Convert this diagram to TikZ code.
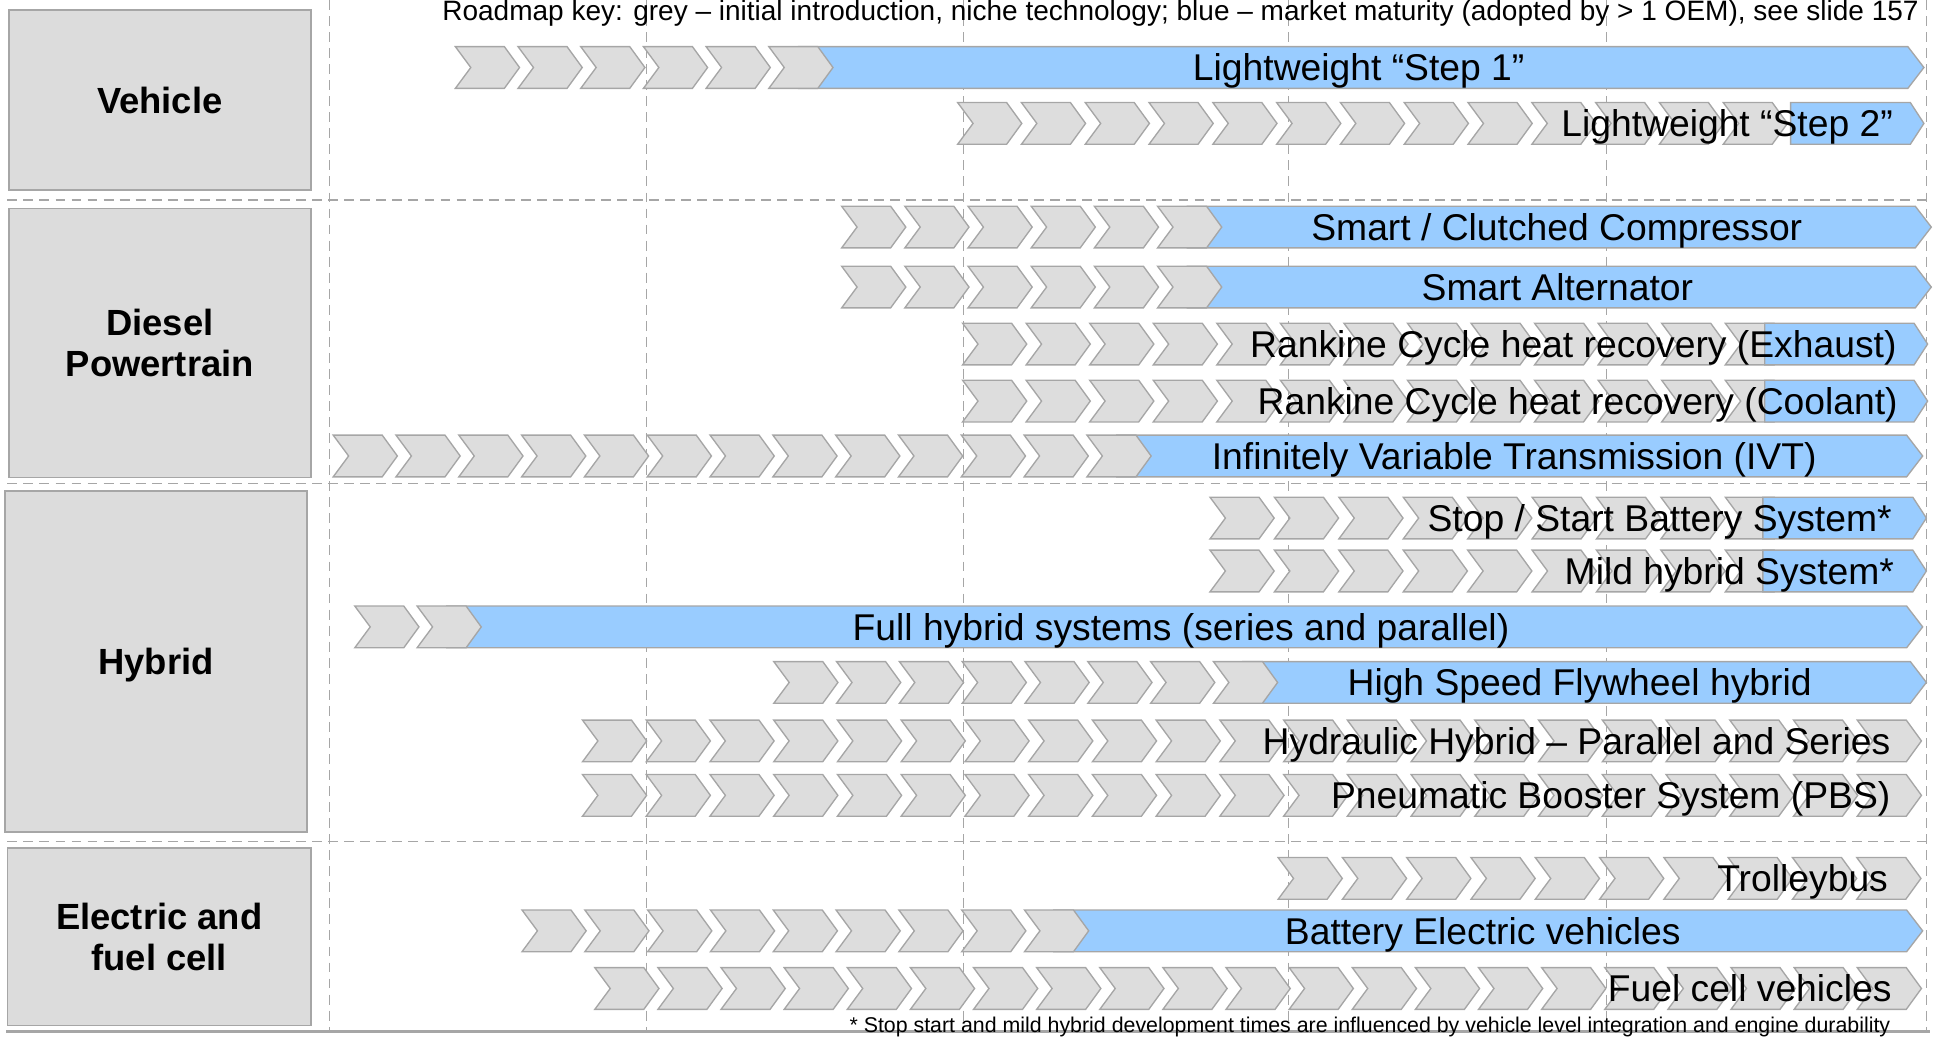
\documentclass[tikz,border=0pt]{standalone}
\usepackage{fontspec}
\setmainfont{Liberation Sans}
\usetikzlibrary{backgrounds}

\definecolor{edgegrey}{HTML}{A6A6A6}
\definecolor{chevfill}{HTML}{DDDDDD}
\definecolor{catfill}{HTML}{DCDCDC}
\definecolor{matureblue}{HTML}{99CCFF}

% rows of grey chevrons: y / first x / pitch / count
\def\chevronrows{54.7/369/50.8/6, 100/776/51.7/13,%
  184/682/51.2/6, 232.6/682/51.2/6, 278.8/780/51.5/13, 325/780/51.5/13,%
  369.5/270/50.9/13,%
  419.8/980.5/52.2/9, 462.7/980.5/52.2/9, 508/287.5/50.5/2, 553/627/50.9/8,%
  600.4/472/51.65/21, 644.5/472/51.65/21,%
  711.8/1035.7/52.1/10, 754.3/423/50.9/9, 801/482/51.15/21}
% blue bars lying under the chevrons: y / left / tip
\def\maturebars{54.7/647/1559, 184/962/1565, 232.6/962/1565,%
  369.5/905/1558, 508/362/1558, 553/1007/1561, 754.3/854/1558}
% blue ends lying over the chevrons: y / left / tip
\def\maturetips{100/1451/1559, 278.8/1430/1562, 325/1430/1562,%
  419.8/1428.5/1561, 462.7/1428.5/1561}
% texts: y / x / anchor / text
\def\techlabels{%
  54.7/1101/base/{Lightweight “Step 1”},%
  100/1534/base east/{Lightweight “Step 2”},%
  184/1261.5/base/{Smart / Clutched Compressor},%
  232.6/1262/base/{Smart Alternator},%
  278.8/1537/base east/{Rankine Cycle heat recovery (Exhaust)},%
  325/1538/base east/{Rankine Cycle heat recovery (Coolant)},%
  369.5/1227/base/{Infinitely Variable Transmission (IVT)},%
  419.8/1533/base east/{Stop / Start Battery System*},%
  462.7/1535/base east/{Mild hybrid System*},%
  508/957/base/{Full hybrid systems (series and parallel)},%
  553/1280/base/{High Speed Flywheel hybrid},%
  600.4/1532/base east/{Hydraulic Hybrid – Parallel and Series},%
  644.5/1532/base east/{Pneumatic Booster System (PBS)},%
  711.8/1530/base east/{Trolleybus},%
  754.3/1201.5/base/{Battery Electric vehicles},%
  801/1533/base east/{Fuel cell vehicles}%
}

\begin{document}
\begin{tikzpicture}[x=1pt,y=-1pt,
    chev/.style={draw=edgegrey, fill=chevfill, line width=1.1pt},
    bar/.style={draw=edgegrey, fill=matureblue, line width=1.1pt},
    catbox/.style={draw=edgegrey, fill=catfill, line width=1.4pt,
      inner sep=0pt, align=center, text depth=0pt,
      font=\bfseries\fontsize{29.5}{33}\selectfont},
    techlabel/.style={inner sep=0pt, font=\fontsize{30.2}{36}\selectfont},
    gridline/.style={draw=edgegrey, line width=1.1pt,
      dash pattern=on 8pt off 5pt}]

  \useasboundingbox (0,0) rectangle (1568,841);

  \begin{pgfonlayer}{background}
    \foreach \gx in {267,524,781,1044,1302,1561} {%
      \draw[gridline] (\gx,0) -- (\gx,836);
    }
    \foreach \gy in {162,392,682} {%
      \draw[gridline] (6,\gy) -- (1561,\gy);
    }
    \draw[edgegrey, line width=2pt] (5,836) -- (1564,836);
  \end{pgfonlayer}

  % categories
  \node[catbox, minimum width=245pt, minimum height=146pt] (vehicle)
    at (129.5,81) {Vehicle};
  \node[catbox, minimum width=245pt, minimum height=218pt] (diesel)
    at (129.5,278) {Diesel\\Powertrain};
  \node[catbox, minimum width=245pt, minimum height=276pt] (hybrid)
    at (126.5,536) {Hybrid};
  \node[catbox, minimum width=246pt, minimum height=144pt] (electric)
    at (129,759) {Electric and\\fuel cell};

  \foreach \by/\bl/\bt in \maturebars {%
    \draw[bar] (\bl,\by-16.9) -- (\bt-13,\by-16.9) -- (\bt,\by)
      -- (\bt-13,\by+16.9) -- (\bl,\by+16.9) -- cycle;
  }

  \foreach \cy/\cx/\cstep/\cn in \chevronrows {%
    \foreach \i in {1,...,\cn} {%
      \pgfmathsetmacro{\xx}{\cx+(\i-1)*\cstep}
      \draw[chev] (\xx,\cy-16.9) -- ++(39.7,0) -- ++(12.3,16.9)
        -- ++(-12.3,16.9) -- ++(-39.7,0) -- ++(12.5,-16.9) -- cycle;
    }
  }

  \foreach \by/\bl/\bt in \maturetips {%
    \draw[bar] (\bl,\by-16.9) -- (\bt-11,\by-16.9) -- (\bt,\by)
      -- (\bt-11,\by+16.9) -- (\bl,\by+16.9) -- cycle;
  }

  \foreach \ly/\lx/\lanc/\ltext [count=\k] in \techlabels {%
    \node[techlabel, anchor=\lanc] (tech\k) at (\lx,\ly+10.8) {\ltext};
  }

  \node[inner sep=0pt, anchor=base east, font=\fontsize{22.7}{26}\selectfont]
    (key) at (1555,17) {Roadmap key: grey – initial introduction, niche
    technology; blue – market maturity (adopted by > 1 OEM), see slide 157};
  \node[inner sep=0pt, anchor=base east, font=\fontsize{17.3}{20}\selectfont]
    (footnote) at (1532,836.5) {* Stop start and mild hybrid development times
    are influenced by vehicle level integration and engine durability};

\end{tikzpicture}
\end{document}
